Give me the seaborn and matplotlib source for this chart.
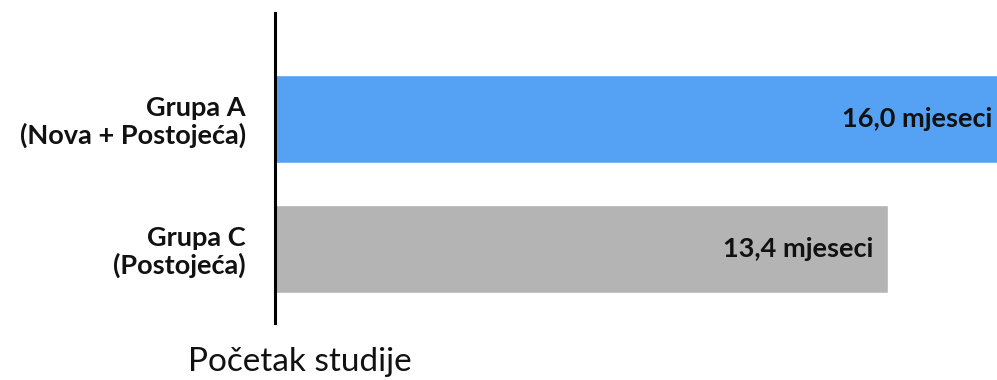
import matplotlib
matplotlib.use("Agg")
import matplotlib.pyplot as plt
import seaborn as sns
import pandas as pd

categories = ["Grupa A\n(Nova + Postojeća)", "Grupa C\n(Postojeća)"]
values = [16.0, 13.4]
value_labels = ["16,0 mjeseci", "13,4 mjeseci"]
colors = ["#55A2F4", "#B4B4B4"]
xlabel = "Početak studije"

sns.set_theme(style="white")
plt.rcParams["font.family"] = ["Lato", "DejaVu Sans"]

df = pd.DataFrame({"cat": categories, "val": values})

fig = plt.figure(figsize=(9.97, 3.8), dpi=100)
ax = fig.add_axes([275/997, 57/380, 1 - 275/997, 310/380])
sns.barplot(data=df, y="cat", x="val", hue="cat", palette=colors, orient="h",
            width=88/130, ax=ax, legend=False, saturation=1)

ax.set_xlim(0, 15.78)
ax.set_ylim(1 + 74/130, -106/130)
for s in ["top", "right", "bottom"]:
    ax.spines[s].set_visible(False)
ax.spines["left"].set_color("black")
ax.spines["left"].set_linewidth(2.2)
ax.set_xticks([])
ax.set_ylabel("")
ax.set_xlabel("")
ax.tick_params(axis="y", length=0, pad=21)
for t in ax.get_yticklabels():
    t.set_fontsize(19.5)
    t.set_fontweight("bold")
    t.set_color("#111111")
    t.set_multialignment("right")
    t.set_linespacing(1.1)

for i, (v, lab) in enumerate(zip(values, value_labels)):
    ax.text(v - 0.33, i, lab, ha="right", va="center", fontsize=19.5,
            fontweight="bold", color="#111111")

fig.text(300/997, 1 - 362/380, xlabel, ha="center", va="center", fontsize=24,
         color="#111111")

fig.savefig("out.png", dpi=100)
